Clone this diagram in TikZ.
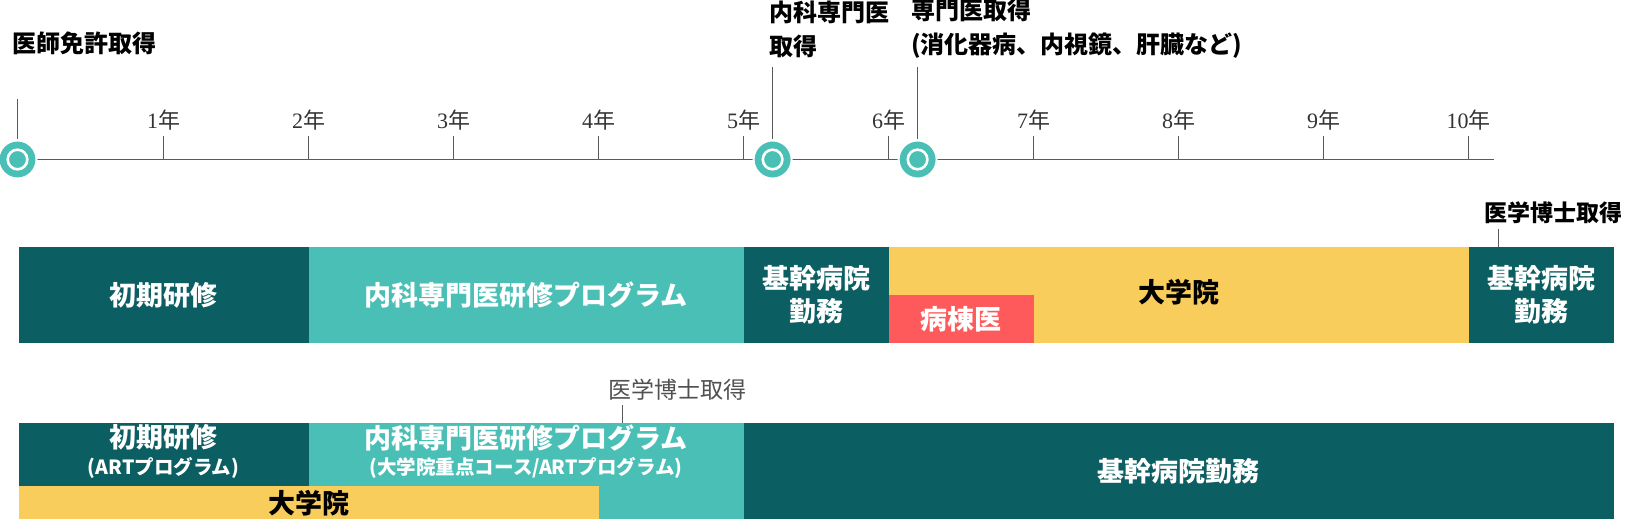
\documentclass[tikz,border=0pt]{standalone}
\usepackage{fontspec}
\setmainfont{Noto Sans CJK JP}
\newfontfamily\yrfont{Liberation Serif}
\definecolor{dk}{HTML}{0B5E62}
\definecolor{tq}{HTML}{4ABFB6}
\definecolor{yl}{HTML}{F9CD5B}
\definecolor{rd}{HTML}{FE5A5C}
\definecolor{ln}{HTML}{5A5A5A}
\tikzset{
  tl/.style={draw=ln, line width=1.2pt},
  box/.style={inner sep=0pt, outer sep=0pt, anchor=north west, draw=none},
  wt/.style={text=white, font=\fontsize{27}{33}\selectfont\bfseries, align=center, inner sep=0pt},
  wsub/.style={text=white, font=\fontsize{19.5}{22}\selectfont\bfseries, align=center, inner sep=0pt},
  bt/.style={text=black, font=\fontsize{27}{33}\selectfont\bfseries, align=center, inner sep=0pt},
  toplab/.style={text=black, font=\fontsize{24}{34}\selectfont\bfseries, align=left, inner sep=0pt, anchor=west},
  yr/.style={text=black!80, font=\fontsize{22}{24}\selectfont, inner sep=0pt},
  marker/.style={circle, fill=tq, draw=white, line width=2pt, minimum size=38pt, inner sep=0pt,
    path picture={\draw[white, line width=2.6pt] (path picture bounding box.center) circle (9.8pt);}},
}
\begin{document}
\begin{tikzpicture}[x=1pt,y=-1pt]
\useasboundingbox (0,0) rectangle (1626,521);
% timeline
\coordinate (ts) at (17.5,159.5);
\coordinate (te) at (1494,159.5);
\draw[tl] (ts) -- (te);
\foreach \n in {1,...,10} {
  \coordinate (t\n) at ({18.6+145*\n},159.5);
  \coordinate (u\n) at ({18.6+145*\n},136);
  \draw[tl] (t\n) -- (u\n);
  \node[yr] (y\n) at ({18.6+145*\n},120) {{\yrfont\n}年};
}
% markers
\coordinate (l0) at (17.5,99);
\coordinate (l1) at (772.6,67);
\coordinate (l2) at (917.6,67);
\node[marker] (m0) at (17.5,159.5) {};
\node[marker] (m1) at (772.6,159.5) {};
\node[marker] (m2) at (917.6,159.5) {};
\draw[tl] (l0) -- (m0.north);
\draw[tl] (l1) -- (m1.north);
\draw[tl] (l2) -- (m2.north);
\node[toplab] (a0) at (12,43.5) {医師免許取得};
\node[toplab] (a1) at (769,29) {内科専門医\\取得};
\node[toplab] (a2) at (911,29) {専門医取得\\(消化器病、内視鏡、肝臓など)};
% row 1
\node[box, fill=dk, minimum width=290pt, minimum height=96pt] (r1a) at (18.6,247) {};
\node[box, fill=tq, minimum width=435pt, minimum height=96pt] (r1b) at (308.6,247) {};
\node[box, fill=dk, minimum width=145pt, minimum height=96pt] (r1c) at (743.6,247) {};
\node[box, fill=yl, minimum width=580pt, minimum height=96pt] (r1d) at (888.6,247) {};
\node[box, fill=rd, minimum width=145pt, minimum height=48pt] (r1e) at (888.6,295) {};
\node[box, fill=dk, minimum width=145.4pt, minimum height=96pt] (r1f) at (1468.6,247) {};
\node[wt] (x1a) at (r1a.center) {初期研修};
\node[wt] (x1b) at (r1b.center) {内科専門医研修プログラム};
\node[wt] (x1c) at (r1c.center) {基幹病院\\勤務};
\node[bt] (x1d) at (1178.6,292) {大学院};
\node[wt] (x1e) at (r1e.center) {病棟医};
\node[wt] (x1f) at (r1f.center) {基幹病院\\勤務};
\node[text=black, font=\fontsize{23}{28}\selectfont\bfseries, inner sep=0pt] (d1) at (1553,213) {医学博士取得};
\coordinate (d1l) at (1498,229);
\draw[line width=1pt, draw=ln] (d1l) -- (r1f.north west -| d1l);
% row 2
\node[box, fill=tq, minimum width=435pt, minimum height=96pt] (r2b) at (308.6,423) {};
\node[box, fill=dk, minimum width=290pt, minimum height=63pt] (r2a) at (18.6,423) {};
\node[box, fill=yl, minimum width=580pt, minimum height=33pt] (r2y) at (18.6,486) {};
\node[box, fill=dk, minimum width=870.4pt, minimum height=96pt] (r2c) at (743.6,423) {};
\node[wt] (x2a) at (163.6,437) {初期研修};
\node[wsub] (s2a) at (163.6,468) {(ARTプログラム)};
\node[wt] (x2b) at (526.1,438) {内科専門医研修プログラム};
\node[wsub] (s2b) at (526.1,468) {(大学院重点コース/ARTプログラム)};
\node[bt] (x2y) at (308.6,503) {大学院};
\node[wt] (x2c) at (r2c.center) {基幹病院勤務};
\node[text=ln!90!black, font=\fontsize{23}{28}\selectfont, inner sep=0pt] (d2) at (677,390) {医学博士取得};
\coordinate (d2l) at (622,405);
\draw[line width=1pt, draw=ln] (d2l) -- (r2b.north west -| d2l);
\end{tikzpicture}
\end{document}
